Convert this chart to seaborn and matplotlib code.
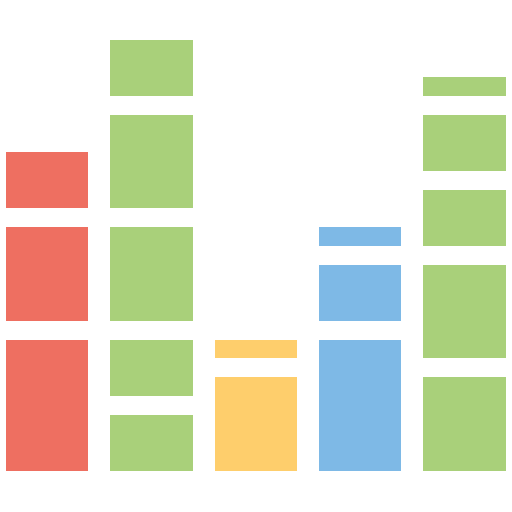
import numpy as np
import matplotlib
matplotlib.use("Agg")
import matplotlib.pyplot as plt
import seaborn as sns

# Stacked block heights per column (bottom to top), in grid units incl. 1-unit gap on top
columns = ["A", "B", "C", "D", "E"]
col_a = [8, 6, 4]
col_b = [4, 4, 6, 6, 4]
col_c = [6, 2]
col_d = [8, 4, 2]
col_e = [6, 6, 4, 4, 2]
stacks = [col_a, col_b, col_c, col_d, col_e]
colors = ["#EE6F61", "#A9D07A", "#FECE6C", "#7EB9E6", "#A9D07A"]
gap = 1.0

sns.set_theme(style="white")

fig = plt.figure(figsize=(5.12, 5.12), dpi=100)
ax = fig.add_axes([0, 0, 1, 1])

for i, (stack, color) in enumerate(zip(stacks, colors)):
    bottoms = np.concatenate([[0], np.cumsum(stack)[:-1]])
    heights = np.array(stack) - gap
    ax.bar(np.full(len(stack), i), heights, bottom=bottoms, width=0.79,
           color=color, linewidth=0)

ax.set_xlim(-0.45, 4.454)
ax.set_ylim(-2.187, 25.12)
ax.axis("off")

plt.savefig("out.png", dpi=100, facecolor="white")
plt.close()
